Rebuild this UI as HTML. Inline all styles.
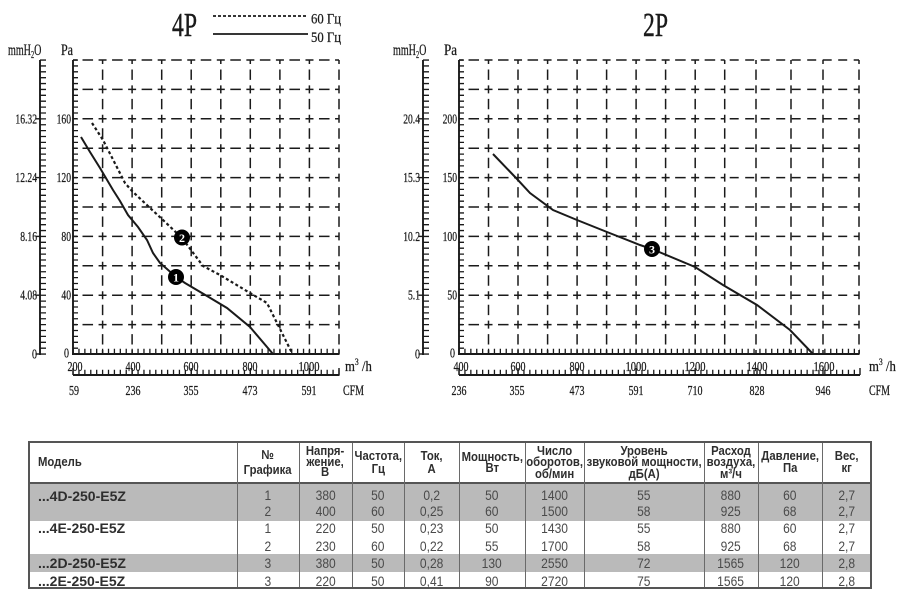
<!DOCTYPE html>
<html><head><meta charset="utf-8">
<style>
html,body{margin:0;padding:0;background:#fff;}
body{width:900px;height:595px;position:relative;overflow:hidden;}
svg text{font-family:"Liberation Serif",serif;fill:#1a1a1a;stroke:#1a1a1a;stroke-width:0.25;}
.t{font-size:13.5px;}
.a{position:absolute;}
.hd{position:absolute;top:441px;height:42px;display:flex;align-items:center;justify-content:center;text-align:center;font:bold 13px/11.5px "Liberation Sans",sans-serif;color:#2e2e2e;white-space:nowrap;}
.hd div{transform:scaleX(0.87);}
.c{position:absolute;height:18px;line-height:18px;text-align:center;font:14px "Liberation Sans",sans-serif;color:#4a4a4a;}
.c span{display:inline-block;transform:scaleX(0.86);}
.m{position:absolute;left:38px;height:18px;line-height:18px;font:bold 14px "Liberation Sans",sans-serif;color:#2e2e2e;}
.vl{position:absolute;top:441px;width:1px;height:148px;background:#6a6a6a;}
</style></head><body>
<svg width="900" height="430" viewBox="0 0 900 430" style="position:absolute;left:0;top:0">
<g stroke="#1a1a1a" fill="none">
 <!-- LEFT CHART GRID -->
 <g stroke-width="1.5" stroke-dasharray="8 5.5 10.56 5.5" stroke-dashoffset="4">
  <line x1="73" x2="339" y1="60" y2="60"/>
  <line x1="73" x2="339" y1="89.4" y2="89.4"/>
  <line x1="73" x2="339" y1="118.8" y2="118.8"/>
  <line x1="73" x2="339" y1="148.2" y2="148.2"/>
  <line x1="73" x2="339" y1="177.6" y2="177.6"/>
  <line x1="73" x2="339" y1="207" y2="207"/>
  <line x1="73" x2="339" y1="236.4" y2="236.4"/>
  <line x1="73" x2="339" y1="265.8" y2="265.8"/>
  <line x1="73" x2="339" y1="295.2" y2="295.2"/>
  <line x1="73" x2="339" y1="324.6" y2="324.6"/>
 </g>
 <g stroke-width="1.5" stroke-dasharray="8 5.5 10.4 5.5" stroke-dashoffset="4">
  <line x1="102.6" x2="102.6" y1="60" y2="354"/>
  <line x1="132.1" x2="132.1" y1="60" y2="354"/>
  <line x1="161.7" x2="161.7" y1="60" y2="354"/>
  <line x1="191.2" x2="191.2" y1="60" y2="354"/>
  <line x1="220.8" x2="220.8" y1="60" y2="354"/>
  <line x1="250.3" x2="250.3" y1="60" y2="354"/>
  <line x1="279.9" x2="279.9" y1="60" y2="354"/>
  <line x1="309.4" x2="309.4" y1="60" y2="354"/>
  <line x1="339" x2="339" y1="60" y2="354"/>
 </g>
 <!-- left axes -->
 <g stroke-width="1.9">
  <line x1="73" y1="60" x2="73" y2="355"/>
  <line x1="72" y1="354" x2="339.5" y2="354"/>
  <line x1="40" y1="60" x2="40" y2="355"/>
  <line x1="73" y1="375" x2="339.5" y2="375"/>
 </g>
 <line x1="75.5" x2="75.5" y1="59.4" y2="355" stroke-width="5" stroke-dasharray="1.3 4.58"/>
 <line x1="43" x2="43" y1="59.4" y2="355" stroke-width="6" stroke-dasharray="1.3 4.58"/>
 <g stroke-width="1.4">
  <line x1="35.5" x2="40" y1="118.8" y2="118.8"/>
  <line x1="35.5" x2="40" y1="177.6" y2="177.6"/>
  <line x1="35.5" x2="40" y1="236.4" y2="236.4"/>
  <line x1="35.5" x2="40" y1="295.2" y2="295.2"/>
  <line x1="35.5" x2="40" y1="354" y2="354"/>
 </g>
 <line x1="72.4" x2="340" y1="351.3" y2="351.3" stroke-width="5" stroke-dasharray="1.3 4.61"/>
 <line x1="72.4" x2="340" y1="372.3" y2="372.3" stroke-width="5" stroke-dasharray="1.3 4.61"/>
 <g stroke-width="1.4">
  <line x1="73" x2="73" y1="368" y2="375"/>
  <line x1="132.1" x2="132.1" y1="368" y2="375"/>
  <line x1="191.2" x2="191.2" y1="368" y2="375"/>
  <line x1="250.3" x2="250.3" y1="368" y2="375"/>
  <line x1="309.4" x2="309.4" y1="368" y2="375"/>
  <line x1="339" x2="339" y1="368" y2="375"/>
 </g>
 <!-- left curves -->
 <polyline stroke-width="2" points="81,137 90,152 100,168 113,190 120,201 128,215 138,227 147,240 153,253 160,263 167,269 176,277 185,283 207,296 227,308 250,327 273,354"/>
 <polyline stroke-width="2.2" stroke-dasharray="3 2.5" points="92,123 103,140 125,183 132,191 149,207 163,220 182,238 203,266 220,275 250,293 267,303 278,325 292,353"/>
 <!-- legend -->
 <line x1="213" x2="308" y1="16" y2="16" stroke-width="1.8" stroke-dasharray="3 2"/>
 <line x1="213" x2="308" y1="34" y2="34" stroke-width="1.8"/>

 <!-- RIGHT CHART GRID -->
 <g stroke-width="1.5" stroke-dasharray="8 5.5 10.52 5.5" stroke-dashoffset="4">
  <line x1="459" x2="724.7" y1="60" y2="60"/>
  <line x1="459" x2="724.7" y1="89.4" y2="89.4"/>
  <line x1="459" x2="724.7" y1="118.8" y2="118.8"/>
  <line x1="459" x2="724.7" y1="148.2" y2="148.2"/>
  <line x1="459" x2="724.7" y1="177.6" y2="177.6"/>
  <line x1="459" x2="724.7" y1="207" y2="207"/>
  <line x1="459" x2="724.7" y1="236.4" y2="236.4"/>
  <line x1="459" x2="724.7" y1="265.8" y2="265.8"/>
  <line x1="459" x2="724.7" y1="295.2" y2="295.2"/>
  <line x1="459" x2="724.7" y1="324.6" y2="324.6"/>
 </g>
 <g stroke-width="1.5" stroke-dasharray="9 6.5" stroke-dashoffset="-5">
  <line x1="724.7" x2="859" y1="60" y2="60"/>
  <line x1="724.7" x2="859" y1="89.4" y2="89.4"/>
  <line x1="724.7" x2="859" y1="118.8" y2="118.8"/>
  <line x1="724.7" x2="859" y1="148.2" y2="148.2"/>
  <line x1="724.7" x2="859" y1="177.6" y2="177.6"/>
  <line x1="724.7" x2="859" y1="207" y2="207"/>
  <line x1="724.7" x2="859" y1="236.4" y2="236.4"/>
  <line x1="724.7" x2="859" y1="265.8" y2="265.8"/>
  <line x1="724.7" x2="859" y1="295.2" y2="295.2"/>
  <line x1="724.7" x2="859" y1="324.6" y2="324.6"/>
 </g>
 <g stroke-width="1.5" stroke-dasharray="8 5.5 10.4 5.5" stroke-dashoffset="4">
  <line x1="488.5" x2="488.5" y1="60" y2="354"/>
  <line x1="518" x2="518" y1="60" y2="354"/>
  <line x1="547.6" x2="547.6" y1="60" y2="354"/>
  <line x1="577.1" x2="577.1" y1="60" y2="354"/>
  <line x1="606.6" x2="606.6" y1="60" y2="354"/>
  <line x1="636.1" x2="636.1" y1="60" y2="354"/>
  <line x1="665.6" x2="665.6" y1="60" y2="354"/>
  <line x1="695.2" x2="695.2" y1="60" y2="354"/>
  <line x1="724.7" x2="724.7" y1="60" y2="354"/>
  <line x1="756" x2="756" y1="60" y2="354"/>
  <line x1="791" x2="791" y1="60" y2="354"/>
  <line x1="823" x2="823" y1="60" y2="354"/>
  <line x1="859" x2="859" y1="60" y2="354"/>
 </g>
 <g stroke-width="1.9">
  <line x1="459" y1="60" x2="459" y2="355"/>
  <line x1="458" y1="354" x2="859.5" y2="354"/>
  <line x1="423" y1="60" x2="423" y2="355"/>
  <line x1="459" y1="375" x2="860" y2="375"/>
 </g>
 <line x1="461.5" x2="461.5" y1="59.4" y2="355" stroke-width="5" stroke-dasharray="1.3 4.58"/>
 <line x1="426" x2="426" y1="59.4" y2="355" stroke-width="6" stroke-dasharray="1.3 4.58"/>
 <g stroke-width="1.4">
  <line x1="418.5" x2="423" y1="118.8" y2="118.8"/>
  <line x1="418.5" x2="423" y1="177.6" y2="177.6"/>
  <line x1="418.5" x2="423" y1="236.4" y2="236.4"/>
  <line x1="418.5" x2="423" y1="295.2" y2="295.2"/>
  <line x1="418.5" x2="423" y1="354" y2="354"/>
 </g>
 <line x1="458.4" x2="860" y1="351.3" y2="351.3" stroke-width="5" stroke-dasharray="1.3 4.6"/>
 <line x1="458.4" x2="860" y1="372.3" y2="372.3" stroke-width="5" stroke-dasharray="1.3 4.6"/>
 <g stroke-width="1.4">
  <line x1="459" x2="459" y1="368" y2="375"/>
  <line x1="518" x2="518" y1="368" y2="375"/>
  <line x1="577.1" x2="577.1" y1="368" y2="375"/>
  <line x1="636.1" x2="636.1" y1="368" y2="375"/>
  <line x1="695.2" x2="695.2" y1="368" y2="375"/>
  <line x1="757" x2="757" y1="368" y2="375"/>
  <line x1="823" x2="823" y1="368" y2="375"/>
  <line x1="860" x2="860" y1="368" y2="375"/>
 </g>
 <polyline stroke-width="2" points="493,154 517,179 530,193 553,210 577,220 607,232 640,245 652,249 695,267 723,285 757,305 790,330 813,354"/>
</g>

<!-- markers -->
<circle cx="176" cy="277" r="8" fill="#000"/>
<text x="176" y="281.5" font-size="12" text-anchor="middle" style="fill:#fff;stroke:none" font-weight="bold">1</text>
<circle cx="182" cy="237.5" r="8" fill="#000"/>
<text x="182" y="242" font-size="12" text-anchor="middle" style="fill:#fff;stroke:none" font-weight="bold">2</text>
<circle cx="652" cy="249" r="8" fill="#000"/>
<text x="652" y="253.5" font-size="12" text-anchor="middle" style="fill:#fff;stroke:none" font-weight="bold">3</text>

<!-- titles & legend -->
<text x="172" y="36" font-size="34" textLength="25" lengthAdjust="spacingAndGlyphs" style="stroke-width:0.4">4P</text>
<text x="643" y="36" font-size="34" textLength="25" lengthAdjust="spacingAndGlyphs" style="stroke-width:0.4">2P</text>
<text x="311" y="23.5" font-size="15" textLength="30" lengthAdjust="spacingAndGlyphs">60 Гц</text>
<text x="311" y="42" font-size="15" textLength="30" lengthAdjust="spacingAndGlyphs">50 Гц</text>

<!-- axis titles -->
<g transform="translate(8,55) scale(0.63,1)"><text x="0" y="0" font-size="16">mmH<tspan font-size="10" dy="3">2</tspan><tspan dy="-3">O</tspan></text></g>
<text x="61" y="55" font-size="16" textLength="12" lengthAdjust="spacingAndGlyphs">Pa</text>
<g transform="translate(393,55) scale(0.63,1)"><text x="0" y="0" font-size="16">mmH<tspan font-size="10" dy="3">2</tspan><tspan dy="-3">O</tspan></text></g>
<text x="444" y="55" font-size="16" textLength="13" lengthAdjust="spacingAndGlyphs">Pa</text>

<!-- left tick labels -->
<g class="t" text-anchor="end">
 <text x="37" y="123.3" textLength="21.6" lengthAdjust="spacingAndGlyphs">16.32</text>
 <text x="37" y="182.1" textLength="21.6" lengthAdjust="spacingAndGlyphs">12.24</text>
 <text x="37" y="240.9" textLength="16.8" lengthAdjust="spacingAndGlyphs">8.16</text>
 <text x="37" y="299.7" textLength="16.8" lengthAdjust="spacingAndGlyphs">4.08</text>
 <text x="37" y="358.5" textLength="5" lengthAdjust="spacingAndGlyphs">0</text>
 <text x="71" y="123.3" textLength="14.4" lengthAdjust="spacingAndGlyphs">160</text>
 <text x="71" y="182.1" textLength="14.4" lengthAdjust="spacingAndGlyphs">120</text>
 <text x="71" y="240.9" textLength="9.6" lengthAdjust="spacingAndGlyphs">80</text>
 <text x="71" y="299.7" textLength="9.6" lengthAdjust="spacingAndGlyphs">40</text>
 <text x="69" y="357.5" textLength="5" lengthAdjust="spacingAndGlyphs">0</text>
</g>
<g class="t" text-anchor="middle">
 <text x="75" y="371" textLength="15" lengthAdjust="spacingAndGlyphs">200</text>
 <text x="133" y="371" textLength="15" lengthAdjust="spacingAndGlyphs">400</text>
 <text x="191" y="371" textLength="15" lengthAdjust="spacingAndGlyphs">600</text>
 <text x="250" y="371" textLength="15" lengthAdjust="spacingAndGlyphs">800</text>
 <text x="309" y="371" textLength="21" lengthAdjust="spacingAndGlyphs">1000</text>
 <text x="74" y="395" textLength="10" lengthAdjust="spacingAndGlyphs">59</text>
 <text x="133" y="395" textLength="15" lengthAdjust="spacingAndGlyphs">236</text>
 <text x="191" y="395" textLength="15" lengthAdjust="spacingAndGlyphs">355</text>
 <text x="250" y="395" textLength="15" lengthAdjust="spacingAndGlyphs">473</text>
 <text x="309" y="395" textLength="15" lengthAdjust="spacingAndGlyphs">591</text>
</g>
<g transform="translate(345,371) scale(0.85,1)"><text x="0" y="0" font-size="15">m<tspan font-size="9" dy="-6">3</tspan><tspan dy="6"> /h</tspan></text></g>
<text x="343" y="395" font-size="15" textLength="21" lengthAdjust="spacingAndGlyphs">CFM</text>

<!-- right tick labels -->
<g class="t" text-anchor="end">
 <text x="420" y="123.3" textLength="16.8" lengthAdjust="spacingAndGlyphs">20.4</text>
 <text x="420" y="182.1" textLength="16.8" lengthAdjust="spacingAndGlyphs">15.3</text>
 <text x="420" y="240.9" textLength="16.8" lengthAdjust="spacingAndGlyphs">10.2</text>
 <text x="420" y="299.7" textLength="12" lengthAdjust="spacingAndGlyphs">5.1</text>
 <text x="420" y="358.5" textLength="5" lengthAdjust="spacingAndGlyphs">0</text>
 <text x="457" y="123.3" textLength="14.4" lengthAdjust="spacingAndGlyphs">200</text>
 <text x="457" y="182.1" textLength="14.4" lengthAdjust="spacingAndGlyphs">150</text>
 <text x="457" y="240.9" textLength="14.4" lengthAdjust="spacingAndGlyphs">100</text>
 <text x="457" y="299.7" textLength="9.6" lengthAdjust="spacingAndGlyphs">50</text>
 <text x="455" y="357.5" textLength="5" lengthAdjust="spacingAndGlyphs">0</text>
</g>
<g class="t" text-anchor="middle">
 <text x="461" y="371" textLength="15" lengthAdjust="spacingAndGlyphs">400</text>
 <text x="518" y="371" textLength="15" lengthAdjust="spacingAndGlyphs">600</text>
 <text x="577" y="371" textLength="15" lengthAdjust="spacingAndGlyphs">800</text>
 <text x="636" y="371" textLength="21" lengthAdjust="spacingAndGlyphs">1000</text>
 <text x="695" y="371" textLength="21" lengthAdjust="spacingAndGlyphs">1200</text>
 <text x="757" y="371" textLength="21" lengthAdjust="spacingAndGlyphs">1400</text>
 <text x="824" y="371" textLength="21" lengthAdjust="spacingAndGlyphs">1600</text>
 <text x="459" y="395" textLength="15" lengthAdjust="spacingAndGlyphs">236</text>
 <text x="517" y="395" textLength="15" lengthAdjust="spacingAndGlyphs">355</text>
 <text x="577" y="395" textLength="15" lengthAdjust="spacingAndGlyphs">473</text>
 <text x="636" y="395" textLength="15" lengthAdjust="spacingAndGlyphs">591</text>
 <text x="695" y="395" textLength="15" lengthAdjust="spacingAndGlyphs">710</text>
 <text x="757" y="395" textLength="15" lengthAdjust="spacingAndGlyphs">828</text>
 <text x="823" y="395" textLength="15" lengthAdjust="spacingAndGlyphs">946</text>
</g>
<g transform="translate(869,371) scale(0.85,1)"><text x="0" y="0" font-size="15">m<tspan font-size="9" dy="-6">3</tspan><tspan dy="6"> /h</tspan></text></g>
<text x="869" y="395" font-size="15" textLength="21" lengthAdjust="spacingAndGlyphs">CFM</text>
</svg>

<!-- TABLE -->
<div class="a" style="left:28px;top:483px;width:844px;height:38px;background:#bababa;"></div>
<div class="a" style="left:28px;top:554px;width:844px;height:18px;background:#bababa;"></div>
<div class="a" style="left:28px;top:482px;width:844px;height:2px;background:#555;"></div>
<div class="vl" style="left:237px"></div>
<div class="vl" style="left:299px"></div>
<div class="vl" style="left:352px"></div>
<div class="vl" style="left:404px"></div>
<div class="vl" style="left:459px"></div>
<div class="vl" style="left:525px"></div>
<div class="vl" style="left:584px"></div>
<div class="vl" style="left:704px"></div>
<div class="vl" style="left:758px"></div>
<div class="vl" style="left:822px"></div>
<div class="a" style="left:28px;top:441px;width:844px;height:148px;box-sizing:border-box;border:2px solid #555;"></div>

<div class="hd" style="left:38px;width:150px;justify-content:flex-start;"><div style="transform-origin:left center">Модель</div></div>
<div class="hd" style="left:237px;width:62px;line-height:15px;"><div>№<br>Графика</div></div>
<div class="hd" style="left:299px;width:53px;line-height:10.5px;"><div>Напря-<br>жение,<br>В</div></div>
<div class="hd" style="left:352px;width:52px;line-height:13px;"><div>Частота,<br>Гц</div></div>
<div class="hd" style="left:404px;width:55px;line-height:13px;"><div>Ток,<br>А</div></div>
<div class="hd" style="left:459px;width:66px;line-height:11px;"><div>Мощность,<br>Вт</div></div>
<div class="hd" style="left:525px;width:59px;line-height:11.5px;"><div>Число<br>оборотов,<br>об/мин</div></div>
<div class="hd" style="left:584px;width:120px;line-height:11.5px;"><div>Уровень<br>звуковой мощности,<br>дБ(А)</div></div>
<div class="hd" style="left:704px;width:54px;line-height:11.5px;"><div>Расход<br>воздуха,<br>м³/ч</div></div>
<div class="hd" style="left:758px;width:64px;line-height:12px;"><div>Давление,<br>Па</div></div>
<div class="hd" style="left:822px;width:50px;line-height:12px;"><div>Вес,<br>кг</div></div>

<div class="m" style="top:488px">...4D-250-E5Z</div>
<div class="m" style="top:520px">...4E-250-E5Z</div>
<div class="m" style="top:555px">...2D-250-E5Z</div>
<div class="m" style="top:572.5px">...2E-250-E5Z</div>

<!-- row 1 -->
<div class="c" style="top:487px;left:237px;width:62px"><span>1</span></div>
<div class="c" style="top:487px;left:299px;width:53px"><span>380</span></div>
<div class="c" style="top:487px;left:352px;width:52px"><span>50</span></div>
<div class="c" style="top:487px;left:404px;width:55px"><span>0,2</span></div>
<div class="c" style="top:487px;left:459px;width:66px"><span>50</span></div>
<div class="c" style="top:487px;left:525px;width:59px"><span>1400</span></div>
<div class="c" style="top:487px;left:584px;width:120px"><span>55</span></div>
<div class="c" style="top:487px;left:704px;width:54px"><span>880</span></div>
<div class="c" style="top:487px;left:758px;width:64px"><span>60</span></div>
<div class="c" style="top:487px;left:822px;width:50px"><span>2,7</span></div>
<!-- row 2 -->
<div class="c" style="top:503px;left:237px;width:62px"><span>2</span></div>
<div class="c" style="top:503px;left:299px;width:53px"><span>400</span></div>
<div class="c" style="top:503px;left:352px;width:52px"><span>60</span></div>
<div class="c" style="top:503px;left:404px;width:55px"><span>0,25</span></div>
<div class="c" style="top:503px;left:459px;width:66px"><span>60</span></div>
<div class="c" style="top:503px;left:525px;width:59px"><span>1500</span></div>
<div class="c" style="top:503px;left:584px;width:120px"><span>58</span></div>
<div class="c" style="top:503px;left:704px;width:54px"><span>925</span></div>
<div class="c" style="top:503px;left:758px;width:64px"><span>68</span></div>
<div class="c" style="top:503px;left:822px;width:50px"><span>2,7</span></div>
<!-- row 3 -->
<div class="c" style="top:520px;left:237px;width:62px"><span>1</span></div>
<div class="c" style="top:520px;left:299px;width:53px"><span>220</span></div>
<div class="c" style="top:520px;left:352px;width:52px"><span>50</span></div>
<div class="c" style="top:520px;left:404px;width:55px"><span>0,23</span></div>
<div class="c" style="top:520px;left:459px;width:66px"><span>50</span></div>
<div class="c" style="top:520px;left:525px;width:59px"><span>1430</span></div>
<div class="c" style="top:520px;left:584px;width:120px"><span>55</span></div>
<div class="c" style="top:520px;left:704px;width:54px"><span>880</span></div>
<div class="c" style="top:520px;left:758px;width:64px"><span>60</span></div>
<div class="c" style="top:520px;left:822px;width:50px"><span>2,7</span></div>
<!-- row 4 -->
<div class="c" style="top:537.5px;left:237px;width:62px"><span>2</span></div>
<div class="c" style="top:537.5px;left:299px;width:53px"><span>230</span></div>
<div class="c" style="top:537.5px;left:352px;width:52px"><span>60</span></div>
<div class="c" style="top:537.5px;left:404px;width:55px"><span>0,22</span></div>
<div class="c" style="top:537.5px;left:459px;width:66px"><span>55</span></div>
<div class="c" style="top:537.5px;left:525px;width:59px"><span>1700</span></div>
<div class="c" style="top:537.5px;left:584px;width:120px"><span>58</span></div>
<div class="c" style="top:537.5px;left:704px;width:54px"><span>925</span></div>
<div class="c" style="top:537.5px;left:758px;width:64px"><span>68</span></div>
<div class="c" style="top:537.5px;left:822px;width:50px"><span>2,7</span></div>
<!-- row 5 -->
<div class="c" style="top:554.5px;left:237px;width:62px"><span>3</span></div>
<div class="c" style="top:554.5px;left:299px;width:53px"><span>380</span></div>
<div class="c" style="top:554.5px;left:352px;width:52px"><span>50</span></div>
<div class="c" style="top:554.5px;left:404px;width:55px"><span>0,28</span></div>
<div class="c" style="top:554.5px;left:459px;width:66px"><span>130</span></div>
<div class="c" style="top:554.5px;left:525px;width:59px"><span>2550</span></div>
<div class="c" style="top:554.5px;left:584px;width:120px"><span>72</span></div>
<div class="c" style="top:554.5px;left:704px;width:54px"><span>1565</span></div>
<div class="c" style="top:554.5px;left:758px;width:64px"><span>120</span></div>
<div class="c" style="top:554.5px;left:822px;width:50px"><span>2,8</span></div>
<!-- row 6 -->
<div class="c" style="top:572.5px;left:237px;width:62px"><span>3</span></div>
<div class="c" style="top:572.5px;left:299px;width:53px"><span>220</span></div>
<div class="c" style="top:572.5px;left:352px;width:52px"><span>50</span></div>
<div class="c" style="top:572.5px;left:404px;width:55px"><span>0,41</span></div>
<div class="c" style="top:572.5px;left:459px;width:66px"><span>90</span></div>
<div class="c" style="top:572.5px;left:525px;width:59px"><span>2720</span></div>
<div class="c" style="top:572.5px;left:584px;width:120px"><span>75</span></div>
<div class="c" style="top:572.5px;left:704px;width:54px"><span>1565</span></div>
<div class="c" style="top:572.5px;left:758px;width:64px"><span>120</span></div>
<div class="c" style="top:572.5px;left:822px;width:50px"><span>2,8</span></div>
</body></html>
